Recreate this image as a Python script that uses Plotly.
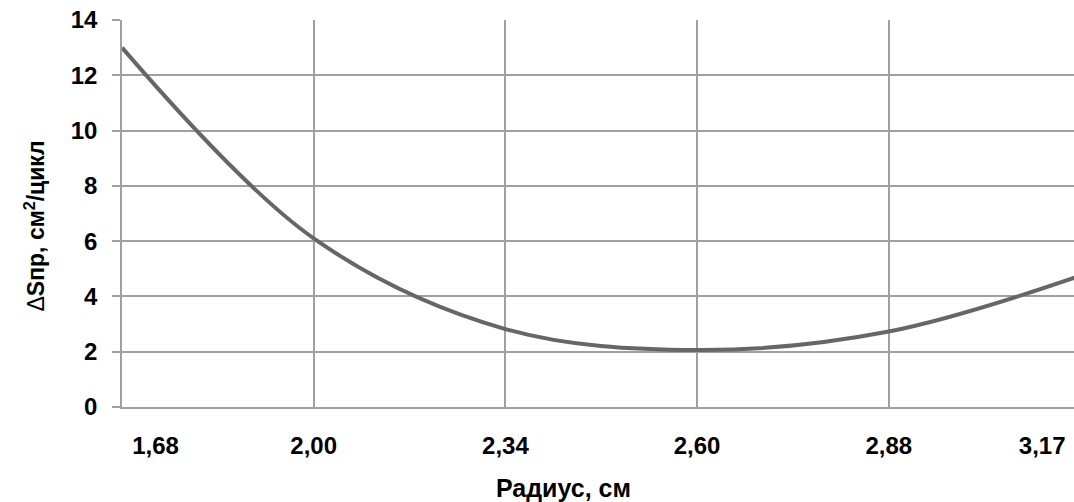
import plotly.graph_objects as go

radius_labels = ["1,68", "2,00", "2,34", "2,60", "2,88", "3,17"]
dS_values = [13.0, 6.1, 2.82, 2.06, 2.73, 4.75]
y_ticks = [0, 2, 4, 6, 8, 10, 12, 14]
label_pos = [0.175, 1, 2, 3, 4, 4.8]

FONT = "Liberation Sans, Arial, sans-serif"
GRID = "#a0a0a0"

W, H = 1074, 502
L, T, B = 121.5, 20, 95
plot_w = W - L
plot_h = H - T - B

fig = go.Figure()
fig.add_trace(go.Scatter(
    x=radius_labels, y=dS_values, mode="lines",
    line=dict(color="#666666", width=4, shape="spline", smoothing=1.0),
    hoverinfo="skip", showlegend=False))
# invisible helper trace so the label axis is drawn
fig.add_trace(go.Scatter(
    x=label_pos, y=dS_values, xaxis="x2", mode="lines",
    line=dict(color="rgba(0,0,0,0)", width=0), hoverinfo="skip", showlegend=False))

fig.update_layout(
    width=W, height=H,
    margin=dict(l=L, r=0, t=T, b=B),
    paper_bgcolor="white", plot_bgcolor="white",
    font=dict(family=FONT, size=24, color="black"),
    xaxis=dict(type="category", range=[0, 4.966], showgrid=True, gridcolor=GRID,
               gridwidth=1.5, showticklabels=False, ticks="", zeroline=False,
               showline=True, linecolor=GRID, linewidth=1.5),
    xaxis2=dict(overlaying="x", anchor="y", side="bottom", range=[0, 4.966],
                tickvals=label_pos, ticktext=["<b>%s</b>" % t for t in radius_labels],
                showgrid=False, zeroline=False, ticks="", showline=False,
                ticklabelstandoff=22, tickfont=dict(size=24)),
    yaxis=dict(range=[0, 14], tickvals=y_ticks,
               ticktext=["<b>%d</b>" % v for v in y_ticks],
               showgrid=True, gridcolor=GRID, gridwidth=1.5, zeroline=False,
               ticks="outside", ticklen=8, tickcolor=GRID, tickwidth=1.5,
               showline=True, linecolor=GRID, linewidth=1.5,
               ticklabelstandoff=10, tickfont=dict(size=24)),
    annotations=[
        dict(text="<b>Радиус, см</b>", xref="paper", yref="paper",
             x=(563 - L) / plot_w, y=-(488 - 407) / plot_h,
             xanchor="center", yanchor="middle",
             showarrow=False, font=dict(size=25)),
        dict(text="Δ<b>Sпр, см<sup>2</sup>/цикл</b>", xref="paper", yref="paper",
             x=-(L - 34) / plot_w, y=(407 - 226) / plot_h, xanchor="center",
             yanchor="middle", textangle=-90, showarrow=False, font=dict(size=23)),
    ],
)

fig.write_html("out.html", config={"displayModeBar": False},
               post_script="document.body.style.margin='0';")
